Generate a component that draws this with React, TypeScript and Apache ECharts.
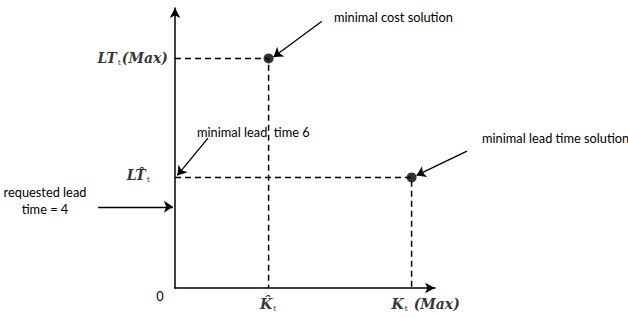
import React, { useEffect, useRef } from "react";
import * as echarts from "echarts";

// Conceptual values (data units on 0..100 axes)
const kHat = 36;
const kMax = 91;
const ltMax = 82;
const ltHat = 39.5;
const requestedLT = 29;

const solutionPoints: [number, number][] = [
  [kHat, ltMax],
  [kMax, ltHat],
];

const dashedPaths: [number, number][][] = [
  [[0, ltMax], [kHat, ltMax], [kHat, 0]],
  [[0, ltHat], [kMax, ltHat], [kMax, 0]],
];

// annotation arrows: [from, to]
const annotationArrows: [number, number][][] = [
  [[56.5, 95.3], [37.9, 82.5]],
  [[112.3, 48.9], [92.9, 40.2]],
  [[12.7, 53.5], [0.9, 40.2]],
  [[-29.6, requestedLT], [-0.8, requestedLT]],
];

const annotationTexts = [
  { text: "minimal cost solution", x: 334, y: 17 },
  { text: "minimal lead time solution", x: 482, y: 138 },
  { text: "minimal lead  time 6", x: 197, y: 132 },
];

const mathB = {
  fontFamily: "DejaVu Serif",
  fontWeight: "bold" as const,
  fontStyle: "italic" as const,
  fontSize: 14,
  color: "#000",
};
const mathS = {
  fontFamily: "DejaVu Serif",
  fontSize: 8,
  color: "#000",
  padding: [8, 1, 0, 1],
};

export default function App() {
  const ref = useRef<HTMLDivElement>(null);
  useEffect(() => {
    document.body.style.margin = "0";
    const chart = echarts.init(ref.current!, null, { renderer: "svg" });
    const rich = { b: mathB, s: mathS };
    chart.setOption({
      animation: false,
      grid: { left: 175, right: 193, top: 8, bottom: 29 },
      xAxis: {
        type: "value",
        min: 0,
        max: 100,
        axisLine: {
          show: true,
          symbol: ["none", "arrow"],
          symbolSize: [8, 10],
          lineStyle: { color: "#000", width: 1.5 },
        },
        axisTick: { show: false },
        axisLabel: { show: false },
        splitLine: { show: false },
      },
      yAxis: {
        type: "value",
        min: 0,
        max: 100,
        axisLine: {
          show: true,
          symbol: ["none", "arrow"],
          symbolSize: [8, 10],
          lineStyle: { color: "#000", width: 1.5 },
        },
        axisTick: { show: false },
        axisLabel: { show: false },
        splitLine: { show: false },
      },
      series: [
        ...dashedPaths.map((p) => ({
          type: "line",
          data: p,
          symbol: "none",
          silent: true,
          lineStyle: { color: "#000", width: 1.5, type: [6, 4] },
        })),
        {
          type: "lines",
          coordinateSystem: "cartesian2d",
          clip: false,
          silent: true,
          symbol: ["none", "arrow"],
          symbolSize: 9,
          lineStyle: { color: "#000", width: 1.3, opacity: 1 },
          data: annotationArrows.map((c) => ({ coords: c })),
        },
        {
          type: "scatter",
          data: solutionPoints,
          symbolSize: 10,
          itemStyle: { color: "#000" },
          silent: true,
        },
        {
          type: "scatter",
          symbolSize: 0,
          silent: true,
          clip: false,
          data: [
            {
              value: [0, ltMax],
              label: {
                show: true,
                position: "left",
                distance: 7,
                formatter: "{b|LT}{s|t}{b|(Max)}",
                rich,
              },
            },
            {
              value: [0, ltHat],
              label: {
                show: true,
                position: "left",
                distance: 24,
                offset: [0, -2],
                formatter: "{b|LT\u0302}{s|t}",
                rich,
              },
            },
            {
              value: [kHat, 0],
              label: {
                show: true,
                position: "bottom",
                distance: 8,
                formatter: "{b|K\u0302}{s|t}",
                rich,
              },
            },
            {
              value: [kMax, 0],
              label: {
                show: true,
                position: "bottom",
                distance: 8,
                offset: [14, 0],
                formatter: "{b|K}{s|t}{b| (Max)}",
                rich,
              },
            },
          ],
        },
      ],
      graphic: [
        ...annotationTexts.map((a) => ({
          type: "text",
          x: a.x,
          y: a.y,
          style: {
            text: a.text,
            fontFamily: "Lato",
            fontSize: 12.8,
            fill: "#000",
            verticalAlign: "middle",
          },
        })),
        {
          type: "text",
          x: 45,
          y: 200,
          style: {
            text: "requested lead\ntime = 4",
            fontFamily: "Lato",
            fontSize: 12.8,
            lineHeight: 17,
            fill: "#000",
            align: "center",
            verticalAlign: "middle",
          },
        },
        {
          type: "text",
          x: 160,
          y: 296,
          style: {
            text: "0",
            fontFamily: "Lato",
            fontSize: 12.8,
            fill: "#000",
            align: "center",
            verticalAlign: "middle",
          },
        },
      ],
    });
    return () => chart.dispose();
  }, []);
  return <div ref={ref} style={{ width: 628, height: 317 }} />;
}
